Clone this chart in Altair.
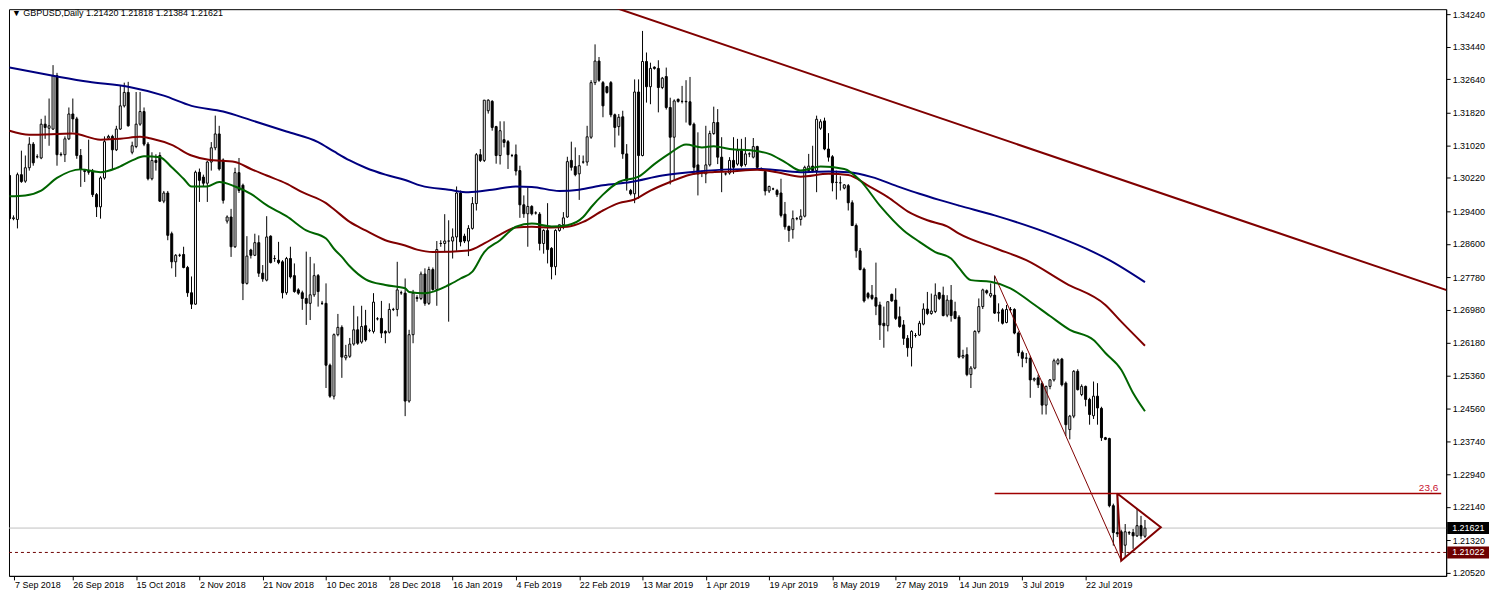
import altair as alt
import pandas as pd

FONT = "Liberation Sans"
PIP = 10000.0

# GBPUSD daily candles (prices in 1/10000 units), bar index 0..287
opens = [
13028,12922,12920,13030,13014,13047,13105,13074,13071,13154,
13144,13142,13273,13079,13079,13118,13179,13167,13077,13040,
13038,13038,12981,12951,13022,13120,13124,13091,13142,13199,
13232,13085,13099,13154,13185,13105,13020,13065,13077,12965,
12985,12885,12816,12832,12834,12802,12740,12712,13036,13024,
13009,13061,13096,13130,13066,12916,12926,12853,13035,13004,
12763,12845,12832,12863,12788,12771,12879,12824,12820,12816,
12740,12824,12782,12747,12740,12726,12714,12735,12782,12714,
12714,12562,12486,12637,12655,12580,12584,12614,12649,12619,
12659,12647,12645,12676,12677,12645,12643,12699,12699,12740,
12739,12474,12637,12728,12726,12786,12714,12797,12748,12861,
12861,12867,12867,12877,12985,12879,12867,12898,12959,13079,
13065,13187,13210,13148,13077,13116,13111,13077,13079,13040,
12956,12934,12952,12936,12933,12861,12893,12849,12804,12893,
12907,12926,13065,13050,13032,13061,13061,13122,13256,13309,
13256,13246,13256,13177,13148,13172,13081,12991,12983,13233,
13077,13308,13246,13294,13291,13244,13271,13195,13122,13215,
13210,13210,13209,13154,13054,13036,13032,13054,13131,13158,
13073,13032,13034,13065,13056,13089,13055,13081,13073,13099,
13044,13038,12990,12995,12991,12985,12933,12903,12895,12922,
12920,12928,13040,13051,13040,13144,13162,13093,13074,13011,
13010,12997,13003,12961,12905,12843,12798,12738,12734,12728,
12710,12665,12659,12736,12722,12681,12661,12628,12605,12635,
12636,12663,12700,12689,12694,12740,12734,12685,12722,12694,
12680,12582,12588,12539,12555,12645,12706,12745,12732,12734,
12690,12698,12667,12699,12699,12641,12593,12579,12579,12526,
12531,12517,12464,12510,12526,12566,12577,12518,12404,12437,
12547,12490,12510,12478,12438,12486,12456,12384,12382,12217,
12151,12153,12120,12151,12151,12143,12168,12142]

highs = [
13035,12930,13035,13089,13077,13122,13110,13080,13167,13175,
13217,13299,13280,13085,13124,13195,13217,13172,13093,13044,
13116,13044,12985,13026,13124,13128,13128,13150,13248,13256,
13258,13111,13233,13233,13195,13110,13085,13080,13085,12990,
12990,12890,12835,12836,12853,12806,12780,13040,13045,13030,
13064,13110,13175,13150,13070,12930,12946,13047,13071,13008,
12879,12848,12885,12881,12808,12928,12881,12832,12865,12820,
12828,12853,12812,12751,12745,12841,12828,12812,12786,12720,
12763,12566,12640,12688,12660,12612,12629,12708,12682,12708,
12698,12652,12739,12680,12720,12648,12714,12703,12816,12745,
12775,12649,12747,12734,12792,12800,12804,12802,12867,12869,
12933,12918,12898,13001,12991,12885,12906,12975,13083,13093,
13213,13215,13213,13150,13161,13161,13115,13081,13104,13052,
12979,12998,12955,12940,12938,12896,12960,12852,12896,12907,
12938,13074,13111,13097,13078,13077,13150,13262,13350,13319,
13260,13248,13260,13180,13179,13187,13105,12995,13264,13264,
13383,13330,13305,13296,13311,13270,13293,13219,13215,13217,
13248,13262,13270,13158,13134,13040,13150,13138,13197,13191,
13122,13036,13073,13122,13118,13118,13122,13085,13120,13101,
13048,13044,13003,12998,12995,13020,12963,12905,12942,12926,
12945,13052,13081,13101,13175,13166,13170,13132,13078,13040,
13026,13007,13007,12967,12910,12850,12802,12742,12759,12814,
12718,12706,12718,12738,12751,12706,12673,12636,12648,12641,
12671,12714,12742,12738,12763,12742,12755,12734,12759,12718,
12685,12600,12606,12560,12648,12726,12750,12748,12763,12782,
12714,12702,12710,12705,12702,12645,12598,12592,12585,12532,
12539,12522,12512,12528,12578,12579,12580,12522,12440,12550,
12552,12515,12512,12482,12522,12518,12460,12386,12384,12222,
12247,12158,12172,12155,12160,12209,12192,12182]

lows = [
12910,12918,12898,13010,13010,13040,13052,13070,13068,13118,
13101,13140,13052,13075,13061,13115,13134,13069,13000,13012,
13030,12975,12926,12922,13018,13118,13044,13088,13140,13195,
13148,13080,13095,13150,13100,13016,13016,13040,12963,12960,
12869,12800,12779,12828,12800,12730,12700,12710,12963,13000,
12963,13040,13090,13040,12959,12910,12828,12850,12985,12722,
12760,12824,12830,12779,12767,12768,12812,12816,12810,12726,
12735,12775,12740,12735,12698,12661,12673,12730,12706,12710,
12506,12482,12478,12633,12531,12574,12580,12610,12612,12615,
12620,12643,12640,12672,12629,12616,12640,12695,12682,12735,
12437,12470,12616,12718,12722,12708,12710,12745,12708,12853,
12840,12669,12824,12843,12854,12862,12830,12895,12942,13061,
13061,13180,13138,13057,13055,13097,13044,13073,13028,12924,
12924,12853,12930,12932,12844,12836,12812,12773,12783,12890,
12896,12924,13040,13026,12968,13057,13052,13118,13250,13258,
13171,13229,13171,13097,13126,13069,12991,12979,12960,12971,
13075,13207,13203,13288,13183,13240,13190,13006,13016,13207,
13205,13158,13150,13030,12979,13024,13009,13050,13128,13056,
12987,13028,13030,13032,13052,13048,13050,13073,13070,13044,
13040,12979,12985,12992,12975,12925,12895,12865,12873,12918,
12905,12925,13035,13035,12987,13140,13090,13062,12989,12969,
12991,12994,12942,12905,12826,12795,12716,12724,12722,12685,
12624,12605,12645,12718,12673,12654,12612,12583,12559,12630,
12634,12660,12685,12686,12690,12722,12682,12680,12669,12675,
12579,12578,12535,12506,12552,12640,12700,12736,12728,12688,
12669,12662,12665,12692,12638,12584,12557,12567,12482,12522,
12506,12441,12441,12503,12522,12562,12510,12388,12380,12432,
12500,12486,12461,12416,12430,12416,12376,12378,12213,12119,
12140,12082,12090,12145,12111,12140,12135,12138]

closes = [
12922,12924,13030,13013,13047,13105,13059,13074,13154,13146,
13150,13273,13079,13080,13118,13179,13167,13077,13044,13038,
13036,12981,12951,13022,13111,13124,13091,13142,13199,13232,
13150,13101,13154,13185,13105,13020,13065,13060,12965,12985,
12881,12816,12832,12832,12802,12740,12712,13036,13016,13009,
13061,13096,13130,13044,12967,12926,12853,13035,12991,12763,
12830,12832,12863,12788,12774,12877,12814,12824,12814,12740,
12824,12779,12743,12739,12726,12714,12735,12782,12743,12714,
12562,12486,12637,12655,12582,12586,12614,12649,12616,12657,
12624,12647,12717,12676,12641,12641,12699,12699,12747,12740,
12474,12637,12739,12726,12786,12714,12797,12748,12846,12861,
12867,12867,12877,12985,12865,12867,12898,12959,13079,13065,
13213,13213,13146,13077,13138,13109,13079,13077,13039,12956,
12934,12952,12934,12936,12861,12893,12846,12804,12893,12907,
12924,13062,13048,13030,13052,13061,13123,13256,13309,13262,
13199,13232,13177,13146,13171,13081,13016,12983,13233,13077,
13308,13246,13291,13291,13244,13267,13195,13122,13211,13210,
13210,13209,13153,13048,13032,13036,13054,13131,13158,13073,
13040,13032,13065,13048,13089,13052,13081,13081,13099,13048,
13044,12990,13001,12995,12981,12930,12902,12893,12922,12922,
12928,13048,13051,13040,13166,13160,13093,13073,13010,13011,
13010,13005,12961,12905,12843,12797,12720,12729,12726,12707,
12661,12659,12718,12720,12677,12657,12628,12605,12645,12635,
12665,12700,12689,12695,12734,12726,12684,12722,12684,12677,
12582,12586,12539,12555,12645,12706,12747,12740,12738,12690,
12692,12665,12699,12698,12641,12593,12579,12580,12526,12529,
12514,12464,12510,12526,12573,12575,12514,12416,12437,12547,
12502,12510,12478,12441,12486,12457,12384,12380,12217,12151,
12148,12104,12153,12150,12143,12168,12143,12162]

# moving averages, read at sampled bars
ma_blue_i = [0, 11, 20, 30, 39, 46, 54, 61, 70, 78, 82, 86, 90, 95, 100, 104, 111, 116, 122, 128,
             132, 139, 144, 150, 157, 165, 174, 182, 190, 200, 207, 212, 218, 224, 230, 235, 240, 249, 264, 274,
             278, 287]
ma_blue_v = [13293, 13273, 13258, 13246, 13224, 13199, 13185, 13164, 13136, 13110, 13087, 13065, 13047, 13030, 13017, 13003, 12993, 12987, 12993, 13001,
             13000, 12990, 12993, 13004, 13012, 13028, 13038, 13043, 13044, 13036, 13038, 13036, 13024, 13003, 12983, 12968, 12954, 12930, 12881, 12840,
             12820, 12766]
ma_red_i = [0, 5, 16, 23, 28, 33, 36, 41, 46, 50, 57, 61, 65, 70, 74, 80, 82, 86, 90, 95,
            100, 103, 107, 116, 120, 124, 128, 132, 137, 141, 145, 150, 154, 158, 162, 167, 172, 177, 182, 189,
            194, 200, 207, 212, 217, 222, 227, 232, 237, 240, 249, 257, 267, 277, 281, 287]
ma_red_v = [13138, 13128, 13131, 13116, 13118, 13123, 13118, 13103, 13077, 13067, 13061, 13044, 13028, 13008, 12987, 12960, 12945, 12914, 12893, 12869,
            12856, 12846, 12840, 12844, 12861, 12883, 12900, 12902, 12900, 12902, 12914, 12942, 12960, 12969, 12991, 13012, 13030, 13036, 13038, 13042,
            13036, 13025, 13032, 13029, 13003, 12975, 12940, 12918, 12903, 12885, 12850, 12820, 12763, 12710, 12669, 12610]
ma_green_i = [0, 4, 8, 12, 18, 23, 27, 31, 34, 38, 41, 44, 46, 50, 53, 57, 61, 65, 70, 75,
              80, 82, 84, 86, 90, 95, 100, 101, 105, 111, 114, 117, 120, 124, 128, 132, 137, 141, 145, 147,
              150, 154, 159, 163, 167, 171, 175, 178, 182, 188, 192, 196, 200, 205, 211, 215, 220, 226, 230, 234,
              238, 240, 243, 248, 253, 258, 263, 268, 274, 277, 281, 284, 287]
ma_green_v = [12977, 12979, 12991, 13022, 13043, 13036, 13046, 13065, 13075, 13073, 13048, 13020, 13001, 13001, 13012, 13001, 12983, 12955, 12928, 12893,
              12873, 12848, 12828, 12805, 12773, 12759, 12751, 12742, 12739, 12759, 12775, 12792, 12840, 12869, 12902, 12910, 12903, 12906, 12926, 12950,
              12981, 13012, 13025, 13056, 13083, 13104, 13097, 13100, 13093, 13089, 13081, 13061, 13040, 13050, 13044, 13016, 12954, 12893, 12865, 12840,
              12824, 12801, 12771, 12767, 12751, 12718, 12683, 12649, 12624, 12592, 12551, 12494, 12449]

# drawing objects
trend_i = [151, 370]
trend_p = [13447, 12724]
fall_i = [249, 281]
fall_p = [12782, 12082]
fib_i = [249, 361.875]
fib_p = [12247, 12247]
tri_i = [280, 291, 281, 280]
tri_p = [12247, 12164, 12082, 12247]

bid_price = 1.21621
support_price = 1.21022
title_text = "\u25bc GBPUSD,Daily  1.21420 1.21818 1.21384 1.21621"
fib_text = "23,6"

X_MIN, X_MAX = 1.125, 361.875
x_tick_idx = [X_MIN + 0.125] + [16 * k for k in range(1, 18)]
x_tick_labels = ["7 Sep 2018", "26 Sep 2018", "15 Oct 2018", "2 Nov 2018", "21 Nov 2018", "10 Dec 2018",
                 "28 Dec 2018", "16 Jan 2019", "4 Feb 2019", "22 Feb 2019", "13 Mar 2019", "1 Apr 2019",
                 "19 Apr 2019", "8 May 2019", "27 May 2019", "14 Jun 2019", "3 Jul 2019", "22 Jul 2019"]
y_ticks = [1.34240, 1.33440, 1.32640, 1.31820, 1.31020, 1.30220, 1.29400, 1.28600, 1.27780,
           1.26980, 1.26180, 1.25360, 1.24560, 1.23740, 1.22940, 1.22140, 1.21320, 1.20520]

n = len(closes)
assert len(opens) == n and len(highs) == n and len(lows) == n, (len(opens), len(highs), len(lows), n)

candles = pd.DataFrame({
    "i": list(range(n)),
    "o": [v / PIP for v in opens],
    "h": [v / PIP for v in highs],
    "l": [v / PIP for v in lows],
    "c": [v / PIP for v in closes],
})

W, H = 1443, 569
x_scale = alt.Scale(domain=[X_MIN, X_MAX], nice=False, zero=False)
y_scale = alt.Scale(domain=[1.204466, 1.343643], nice=False, zero=False)

label_arr = "[" + ",".join("'%s'" % s for s in x_tick_labels) + "]"
x_axis = alt.Axis(values=x_tick_idx, labelExpr=label_arr + "[round(datum.value/16)]", title=None,
                  grid=False, tickSize=4, labelAlign="left", labelPadding=1, labelFlush=False,
                  labelOverlap=False, domainColor="black", tickColor="black", labelColor="black",
                  labelFont=FONT, labelFontSize=9)
y_axis = alt.Axis(orient="right", values=y_ticks, format=".5f", title=None, grid=False, tickSize=4,
                  labelPadding=2, labelOverlap=False, labelFlush=False, domainColor="black",
                  tickColor="black", labelColor="black", labelFont=FONT, labelFontSize=9)


def X(f):
    return alt.X(f, type="quantitative", scale=x_scale, axis=x_axis)


def Y(f):
    return alt.Y(f, type="quantitative", scale=y_scale, axis=y_axis)


def line_df(idx, vals):
    return pd.DataFrame({"i": idx, "v": [v / PIP for v in vals], "k": list(range(len(idx)))})


bid = alt.Chart(pd.DataFrame({"p": [bid_price]})).mark_rule(color="#c0c0c0", strokeWidth=1).encode(y=Y("p"))
support = alt.Chart(pd.DataFrame({"p": [support_price]})).mark_rule(
    color="#6e0000", strokeWidth=1, strokeDash=[3, 3]).encode(y=Y("p"))

wicks = alt.Chart(candles).mark_rule(color="black", strokeWidth=1, clip=True).encode(
    x=X("i"), y=Y("l"), y2=alt.Y2("h"))
bodies = alt.Chart(candles).mark_bar(size=2, stroke="black", strokeWidth=1, clip=True).encode(
    x=X("i"), y=Y("o"), y2=alt.Y2("c"),
    fill=alt.condition("datum.c >= datum.o", alt.value("white"), alt.value("black")))


def ma_layer(idx, vals, color):
    return alt.Chart(line_df(idx, vals)).mark_line(
        color=color, strokeWidth=2, interpolate="monotone", clip=True).encode(x=X("i"), y=Y("v"))


ma_blue = ma_layer(ma_blue_i, ma_blue_v, "#000080")
ma_red = ma_layer(ma_red_i, ma_red_v, "#800000")
ma_green = ma_layer(ma_green_i, ma_green_v, "#006400")

trend = alt.Chart(line_df(trend_i, trend_p)).mark_line(color="#800000", strokeWidth=2, clip=True).encode(
    x=X("i"), y=Y("v"))
fall = alt.Chart(line_df(fall_i, fall_p)).mark_line(color="#800000", strokeWidth=1, clip=True).encode(
    x=X("i"), y=Y("v"))
fib = alt.Chart(line_df(fib_i, fib_p)).mark_line(color="#a00000", strokeWidth=1.3, clip=True).encode(
    x=X("i"), y=Y("v"))
fib_label = alt.Chart(pd.DataFrame({"i": [fib_i[1]], "v": [fib_p[1] / PIP], "t": [fib_text]})).mark_text(
    align="right", baseline="bottom", dx=-3, dy=-1, color="#c8102e", font=FONT, fontSize=10).encode(
    x=X("i"), y=Y("v"), text="t:N")
tri = alt.Chart(line_df(tri_i, tri_p)).mark_line(color="#800000", strokeWidth=2, clip=True).encode(
    x=X("i"), y=Y("v"), order="k:Q")

boxes_df = pd.DataFrame({"p": [bid_price, support_price], "bg": ["black", "#6e0000"],
                         "t": ["%.5f" % bid_price, "%.5f" % support_price]})
boxes = alt.Chart(boxes_df).mark_tick(orient="horizontal", size=42, thickness=12, opacity=1).encode(
    x=alt.value(W + 22), y=Y("p"), color=alt.Color("bg:N", scale=None))
box_text = alt.Chart(boxes_df).mark_text(align="left", baseline="middle", color="white", font=FONT,
                                         fontSize=9).encode(x=alt.value(W + 6), y=Y("p"), text="t:N")

title = alt.Chart(pd.DataFrame({"t": [title_text]})).mark_text(
    align="left", baseline="top", color="black", font=FONT, fontSize=9).encode(
    x=alt.value(3), y=alt.value(0), text="t:N")

chart = alt.layer(bid, support, wicks, bodies, ma_blue, ma_red, ma_green, trend, fall, fib, fib_label,
                  tri, boxes, box_text, title).properties(
    width=W, height=H, padding=0, background="white").configure_view(stroke="black", strokeWidth=1)

chart.save("out.html", embed_options={"renderer": "svg", "actions": False})
